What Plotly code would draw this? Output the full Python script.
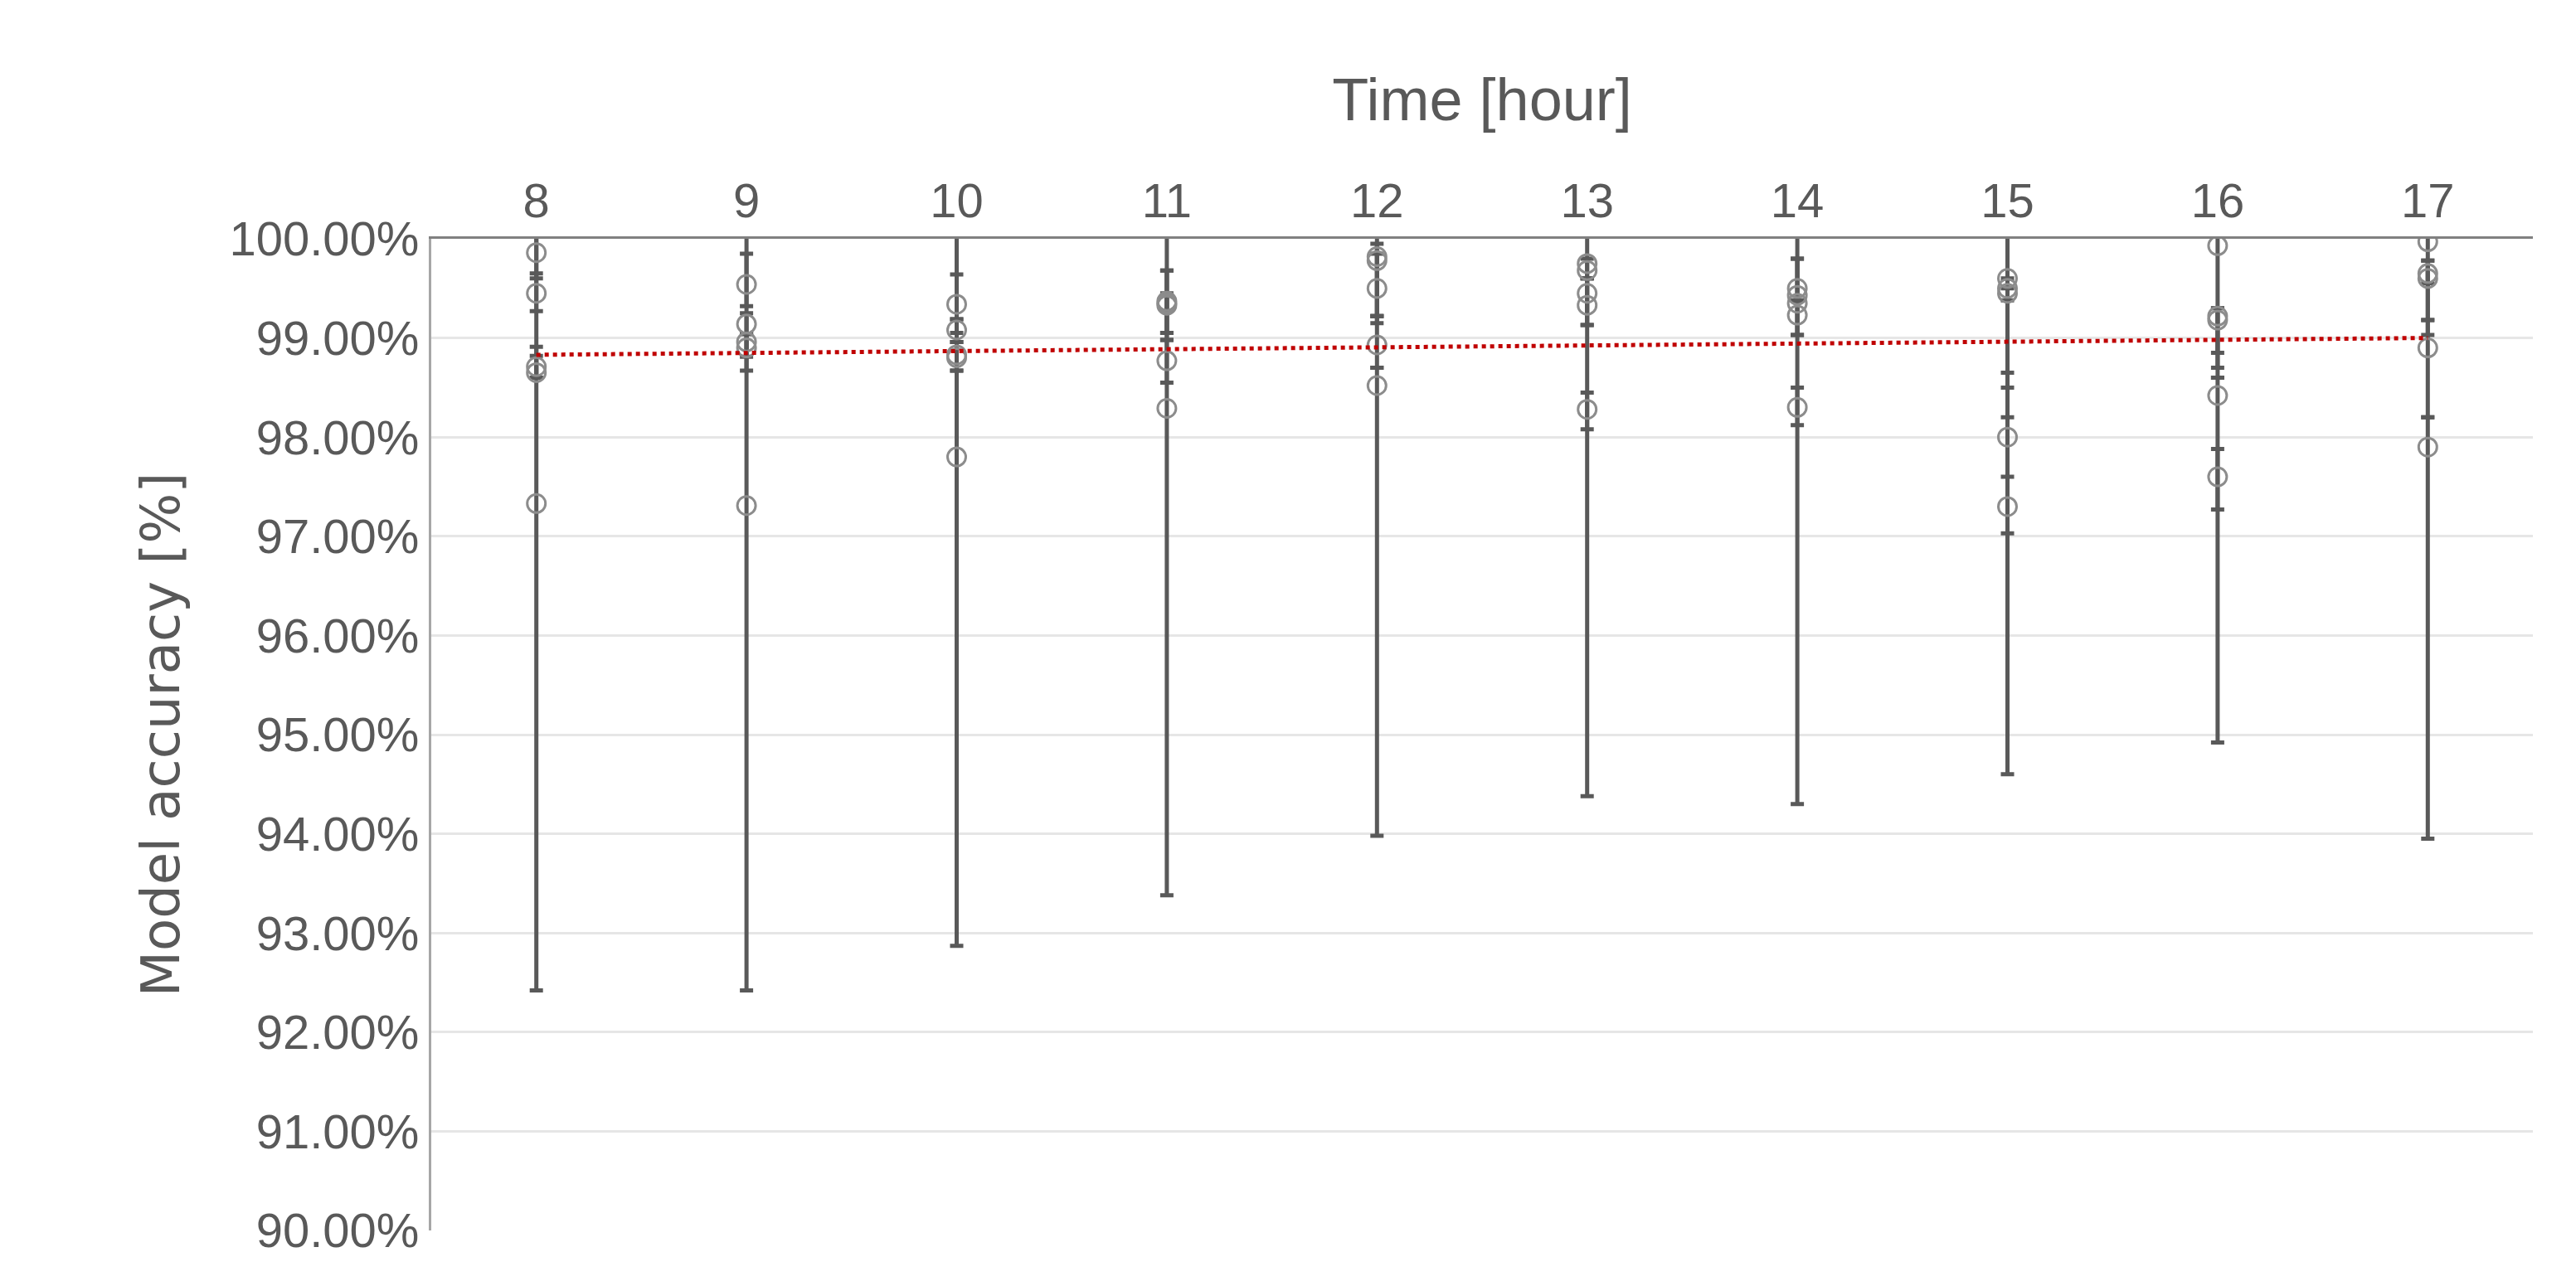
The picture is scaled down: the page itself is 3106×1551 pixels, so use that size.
import plotly.graph_objects as go

hours = [8, 9, 10, 11, 12, 13, 14, 15, 16, 17]
points = [
    [99.86, 99.45, 98.71, 98.65, 97.33],
    [99.54, 99.14, 98.96, 98.90, 97.31],
    [99.34, 99.08, 98.83, 98.80, 97.80],
    [99.37, 99.33, 98.77, 98.29, 99.35],
    [99.82, 99.78, 99.50, 98.93, 98.52],
    [99.75, 99.68, 99.45, 99.33, 98.28],
    [99.50, 99.43, 99.35, 99.23, 98.30],
    [99.60, 99.45, 98.00, 97.30, 99.50],
    [99.93, 99.22, 99.18, 98.42, 97.60],
    [99.97, 99.65, 99.60, 98.90, 97.90],
]
upper = [
    [100.3, 99.65, 98.91, 98.82, 100.3],
    [99.85, 99.25, 99.04, 99.04, 100.3],
    [99.64, 99.19, 99.05, 98.96, 100.3],
    [99.68, 99.68, 98.98, 100.3, 99.45],
    [100.3, 99.95, 99.85, 99.22, 98.70],
    [100.3, 99.80, 99.60, 99.60, 98.45],
    [100.3, 99.80, 99.80, 99.38, 98.50],
    [100.3, 99.60, 98.50, 97.60, 99.50],
    [100.3, 99.30, 99.30, 98.60, 97.88],
    [100.3, 99.78, 99.78, 99.18, 98.20],
]
lower = [
    [99.60, 99.27, 98.60, 98.60, 92.42],
    [99.32, 99.04, 98.81, 98.67, 92.42],
    [99.19, 98.96, 98.67, 98.67, 92.87],
    [99.05, 98.98, 98.55, 93.38, 99.05],
    [99.22, 99.15, 99.22, 98.70, 93.98],
    [99.13, 99.60, 99.13, 98.08, 94.38],
    [99.03, 99.38, 99.03, 98.12, 94.30],
    [98.65, 99.38, 97.03, 94.60, 98.20],
    [98.85, 98.70, 98.60, 97.27, 94.92],
    [99.55, 99.18, 99.03, 98.20, 93.95],
]
trend_hours = [8, 17]
trend_values = [98.83, 99.00]
y_ticks = [90, 91, 92, 93, 94, 95, 96, 97, 98, 99, 100]
y_tick_labels = [f"{v:.2f}%" for v in y_ticks]

xs, ys, ep, em = [], [], [], []
for h, pts, up, lo in zip(hours, points, upper, lower):
    for p, u, l in zip(pts, up, lo):
        xs.append(h); ys.append(p); ep.append(u - p); em.append(p - l)

fig = go.Figure()
fig.add_trace(go.Scatter(
    x=xs, y=ys, mode="markers",
    marker=dict(symbol="circle-open", size=22, color="#8c8c8c", line=dict(width=3)),
    error_y=dict(type="data", symmetric=False, array=ep, arrayminus=em,
                 color="#595959", thickness=5, width=8),
    cliponaxis=True, showlegend=False))
fig.add_trace(go.Scatter(
    x=trend_hours, y=trend_values, mode="lines",
    line=dict(color="#c00000", width=5, dash="dot"), showlegend=False))

fig.update_layout(
    width=3106, height=1551, plot_bgcolor="white", paper_bgcolor="white",
    margin=dict(l=512, r=60, t=280, b=75),
    font=dict(family="Liberation Sans", color="#595959"),
    xaxis=dict(side="top", range=[7.5, 17.5], tickvals=hours, ticktext=[str(h) for h in hours],
               tickfont=dict(size=58), showgrid=False, showline=True, linecolor="#808080",
               linewidth=3, ticks="", title=dict(text="Time [hour]", font=dict(size=72), standoff=40),
               zeroline=False),
    yaxis=dict(range=[90, 100], tickvals=y_ticks, ticktext=y_tick_labels,
               tickfont=dict(size=58), showgrid=True, gridcolor="#e6e6e6", gridwidth=3,
               showline=True, linecolor="#a6a6a6", linewidth=3, ticks="",
               title=dict(text="Model accuracy [%]", font=dict(family="DejaVu Sans", size=64), standoff=40),
               zeroline=False),
)
fig.write_html("out.html")
